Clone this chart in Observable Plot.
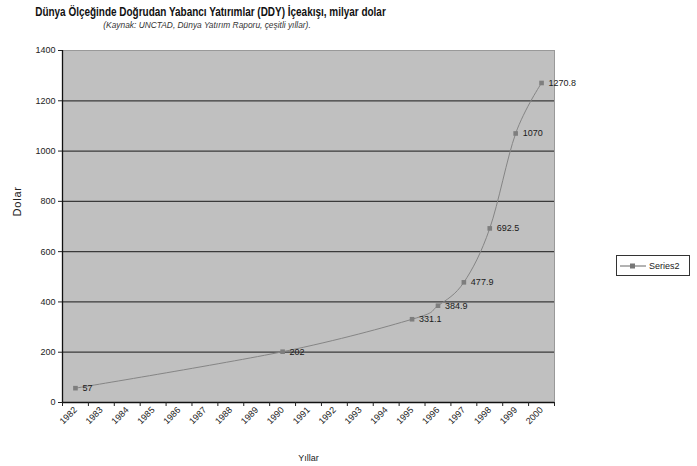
<!DOCTYPE html>
<html>
<head>
<meta charset="utf-8">
<script src="https://cdn.jsdelivr.net/npm/d3@7"></script>
<script src="https://cdn.jsdelivr.net/npm/@observablehq/plot@0.6"></script>
<style>
  body { margin: 0; background: #fff; }
  #wrap { position: relative; width: 697px; height: 466px; overflow: hidden; font-family: "Liberation Sans", Arial, sans-serif; }
  #chart { position: absolute; left: 0; top: 0; }
  #title { position: absolute; left: 0; top: 5px; width: 414px; text-align: center; font-weight: bold; font-size: 12px; color: #111; white-space: nowrap; transform: scaleX(0.83); transform-origin: 207px 0; }
  #subtitle { position: absolute; left: 0; top: 20px; width: 414px; text-align: center; font-style: italic; font-size: 9px; color: #333; white-space: nowrap; transform: scaleX(0.93); transform-origin: 207px 0; }
  #legend { position: absolute; left: 616px; top: 255px; width: 72px; height: 19px; border: 1px solid #333; background: #fff; display: flex; align-items: center; font-size: 9px; color: #222; }
  #legend svg { margin-left: 3px; margin-right: 3px; }
  .dolar { letter-spacing: 0.8px; }
</style>
</head>
<body>
<div id="wrap">
  <div id="chart"></div>
  <div id="title">Dünya Ölçeğinde Doğrudan Yabancı Yatırımlar (DDY) İçeakışı, milyar dolar</div>
  <div id="subtitle">(Kaynak: UNCTAD, Dünya Yatırım Raporu, çeşitli yıllar).</div>
  <div id="legend"><svg width="26" height="8"><line x1="0" y1="4" x2="26" y2="4" stroke="#666" stroke-width="1"/><rect x="10" y="1.5" width="5" height="5" fill="#777"/></svg><span>Series2</span></div>
</div>
<script>
// Category tick labels (years on the x axis)
const years = [1982, 1983, 1984, 1985, 1986, 1987, 1988, 1989, 1990, 1991, 1992, 1993, 1994, 1995, 1996, 1997, 1998, 1999, 2000];
// Series2 observed years and values (billion dollars)
const seriesYears = [1982, 1990, 1995, 1996, 1997, 1998, 1999, 2000];
const seriesValues = [57, 202, 331.1, 384.9, 477.9, 692.5, 1070, 1270.8];
const seriesLabels = ["57", "202", "331.1", "384.9", "477.9", "692.5", "1070", "1270.8"];
// Y axis ticks
const yTicks = [0, 200, 400, 600, 800, 1000, 1200, 1400];

const data = seriesYears.map((y, i) => ({year: y, value: seriesValues[i], label: seriesLabels[i]}));
const bounds = years.map(y => y - 0.5).concat([years[years.length - 1] + 0.5]);
const gridLines = yTicks.filter(v => v > 0 && v < 1400);

const chart = Plot.plot({
  width: 697,
  height: 466,
  marginLeft: 62,
  marginRight: 143,
  marginTop: 50,
  marginBottom: 64,
  style: {fontFamily: "'Liberation Sans', Arial, sans-serif", fontSize: "9px", color: "#222", background: "transparent"},
  x: {domain: [bounds[0], bounds[bounds.length - 1]]},
  y: {domain: [0, 1400]},
  marks: [
    Plot.frame({fill: "#c0c0c0", stroke: "#999"}),
    Plot.ruleY(gridLines, {stroke: "#3a3a3a", strokeWidth: 1.2}),
    Plot.ruleX([bounds[0]], {stroke: "#111", strokeWidth: 1.3}),
    Plot.ruleY([0], {stroke: "#111", strokeWidth: 1.3}),
    Plot.axisY({ticks: yTicks, tickFormat: d => String(d), tickSize: 4, tickPadding: 3, fontSize: 9, label: null}),
    Plot.text(["Dolar"], {frameAnchor: "left", rotate: -90, dx: -45, dy: -10, fontSize: 11, fill: "#222", className: "dolar"}),
    Plot.axisX({ticks: bounds, tickFormat: () => "", tickSize: 4, label: null}),
    Plot.axisX({ticks: years, tickFormat: d => String(d), tickSize: 0, tickPadding: 6, tickRotate: -45, fontSize: 9, label: null}),
    Plot.line(data, {x: "year", y: "value", stroke: "#858585", strokeWidth: 1, curve: "cardinal"}),
    Plot.dot(data, {x: "year", y: "value", symbol: "square", r: 2.6, fill: "#7e7e7e", stroke: "none"}),
    Plot.text(data, {x: "year", y: "value", text: "label", dx: 7, textAnchor: "start", fontSize: 9, fill: "#1a1a1a"}),
    Plot.text(["Yıllar"], {frameAnchor: "bottom", dy: 58, fontSize: 9, fill: "#222"})
  ]
});
document.getElementById("chart").appendChild(chart);
</script>
</body>
</html>
